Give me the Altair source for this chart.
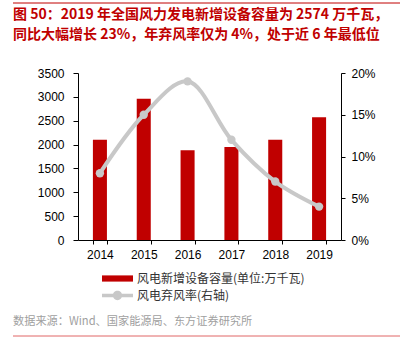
import altair as alt
import pandas as pd

years = ["2014", "2015", "2016", "2017", "2018", "2019"]
capacity = [2100, 2960, 1880, 1950, 2100, 2574]
curtail_rate = [0.08, 0.15, 0.19, 0.12, 0.07, 0.04]
bar_label = ["风电新增设备容量(单位:万千瓦)"]
line_label = ["风电弃风率(右轴)"]
left_ticks = [0, 500, 1000, 1500, 2000, 2500, 3000, 3500]
right_ticks = [0, 0.05, 0.10, 0.15, 0.20]
title_lines = ["图 50：2019 年全国风力发电新增设备容量为 2574 万千瓦，",
               "同比大幅增长 23%，年弃风率仅为 4%，处于近 6 年最低位"]
source_text = "数据来源：Wind、国家能源局、东方证券研究所"

RED = "#c00000"
GRAY = "#c8c8c8"
FONT = "Noto Sans CJK SC"
NUMFONT = "Liberation Sans"

df = pd.DataFrame({
    "year": years,
    "cap": capacity,
    "rate": curtail_rate,
    "barName": bar_label * len(years),
    "lineName": line_label * len(years),
})

W, H = 263, 167

x_enc = alt.X("year:N", sort=years,
              scale=alt.Scale(paddingInner=0.68, paddingOuter=0.34),
              axis=alt.Axis(title=None, labelAngle=0, tickBand="extent",
                            labelFont=NUMFONT, labelFontSize=12, labelColor="#000",
                            domainColor="#000", tickColor="#000", tickSize=4,
                            labelPadding=5, grid=False))

base = alt.Chart(df).encode(x=x_enc)

bars = base.mark_bar().encode(
    y=alt.Y("cap:Q", scale=alt.Scale(domain=[0, 3500]),
            axis=alt.Axis(title=None, values=left_ticks, orient="left", format="d",
                          labelFont=NUMFONT, labelFontSize=12, labelColor="#000",
                          domainColor="#000", tickColor="#000", tickSize=5,
                          labelPadding=9, grid=False)),
    fill=alt.Fill("barName:N", scale=alt.Scale(domain=bar_label, range=[RED]),
                  legend=alt.Legend(title=None, orient="none", legendX=24, legendY=190,
                                    symbolType="M-1,-0.2H1V0.2H-1Z", symbolSize=961,
                                    symbolStrokeWidth=0, symbolOpacity=1,
                                    labelFont=FONT, labelFontSize=12, labelColor="#333",
                                    labelOffset=4, labelLimit=400, padding=0)),
)

right_base = base.encode(
    y=alt.Y("rate:Q", scale=alt.Scale(domain=[0, 0.2]),
            axis=alt.Axis(title=None, values=right_ticks, orient="right", format=".0%",
                          labelFont=NUMFONT, labelFontSize=12, labelColor="#000",
                          domainColor="#000", tickColor="#000", tickSize=4,
                          labelPadding=6, grid=False)))

line = right_base.mark_line(interpolate="catmull-rom", strokeWidth=4).encode(
    stroke=alt.Stroke("lineName:N", scale=alt.Scale(domain=line_label, range=[GRAY]),
                      legend=alt.Legend(title=None, orient="none", legendX=24, legendY=207,
                                        symbolType="M-1,-0.12H1V0.12H-1Z M0.3,0A0.3,0.3 0 1 1 -0.3,0A0.3,0.3 0 1 1 0.3,0Z",
                                        symbolSize=961, symbolFillColor=GRAY,
                                        symbolStrokeColor=GRAY, symbolStrokeWidth=0,
                                        labelFont=FONT, labelFontSize=12, labelColor="#333",
                                        labelOffset=4, labelLimit=400, padding=0)),
)

points = right_base.mark_circle(size=70, color=GRAY, opacity=1)

right = alt.layer(line, points)

top_rule = alt.Chart(alt.Data(values=[{}])).mark_rule(color=RED, strokeWidth=1).encode(
    x=alt.value(-65), x2=alt.value(322), y=alt.value(-70))
bottom_rule = alt.Chart(alt.Data(values=[{}])).mark_rule(color="#e06666", strokeWidth=1).encode(
    x=alt.value(-65), x2=alt.value(322), y=alt.value(263))
source = alt.Chart(alt.Data(values=[{}])).mark_text(
    text=source_text, align="left", baseline="middle", font=FONT, fontSize=11.2,
    color="#a0a0a0").encode(x=alt.value(-65), y=alt.value(249))

chart = alt.layer(bars, right, top_rule, bottom_rule, source).resolve_scale(
    y="independent"
).properties(
    width=W, height=H,
    title=alt.Title(text=title_lines, anchor="start", frame="group", fontSize=14,
                    fontWeight="bold", color=RED, font=FONT, lineHeight=20,
                    dx=-65, offset=0, dy=39),
    autosize=alt.AutoSizeParams(type="none"),
    padding={"left": 78, "top": 73, "right": 67, "bottom": 112},
).configure_view(stroke=None)

chart.save("out.html", embed_options={"renderer": "svg", "actions": False})
